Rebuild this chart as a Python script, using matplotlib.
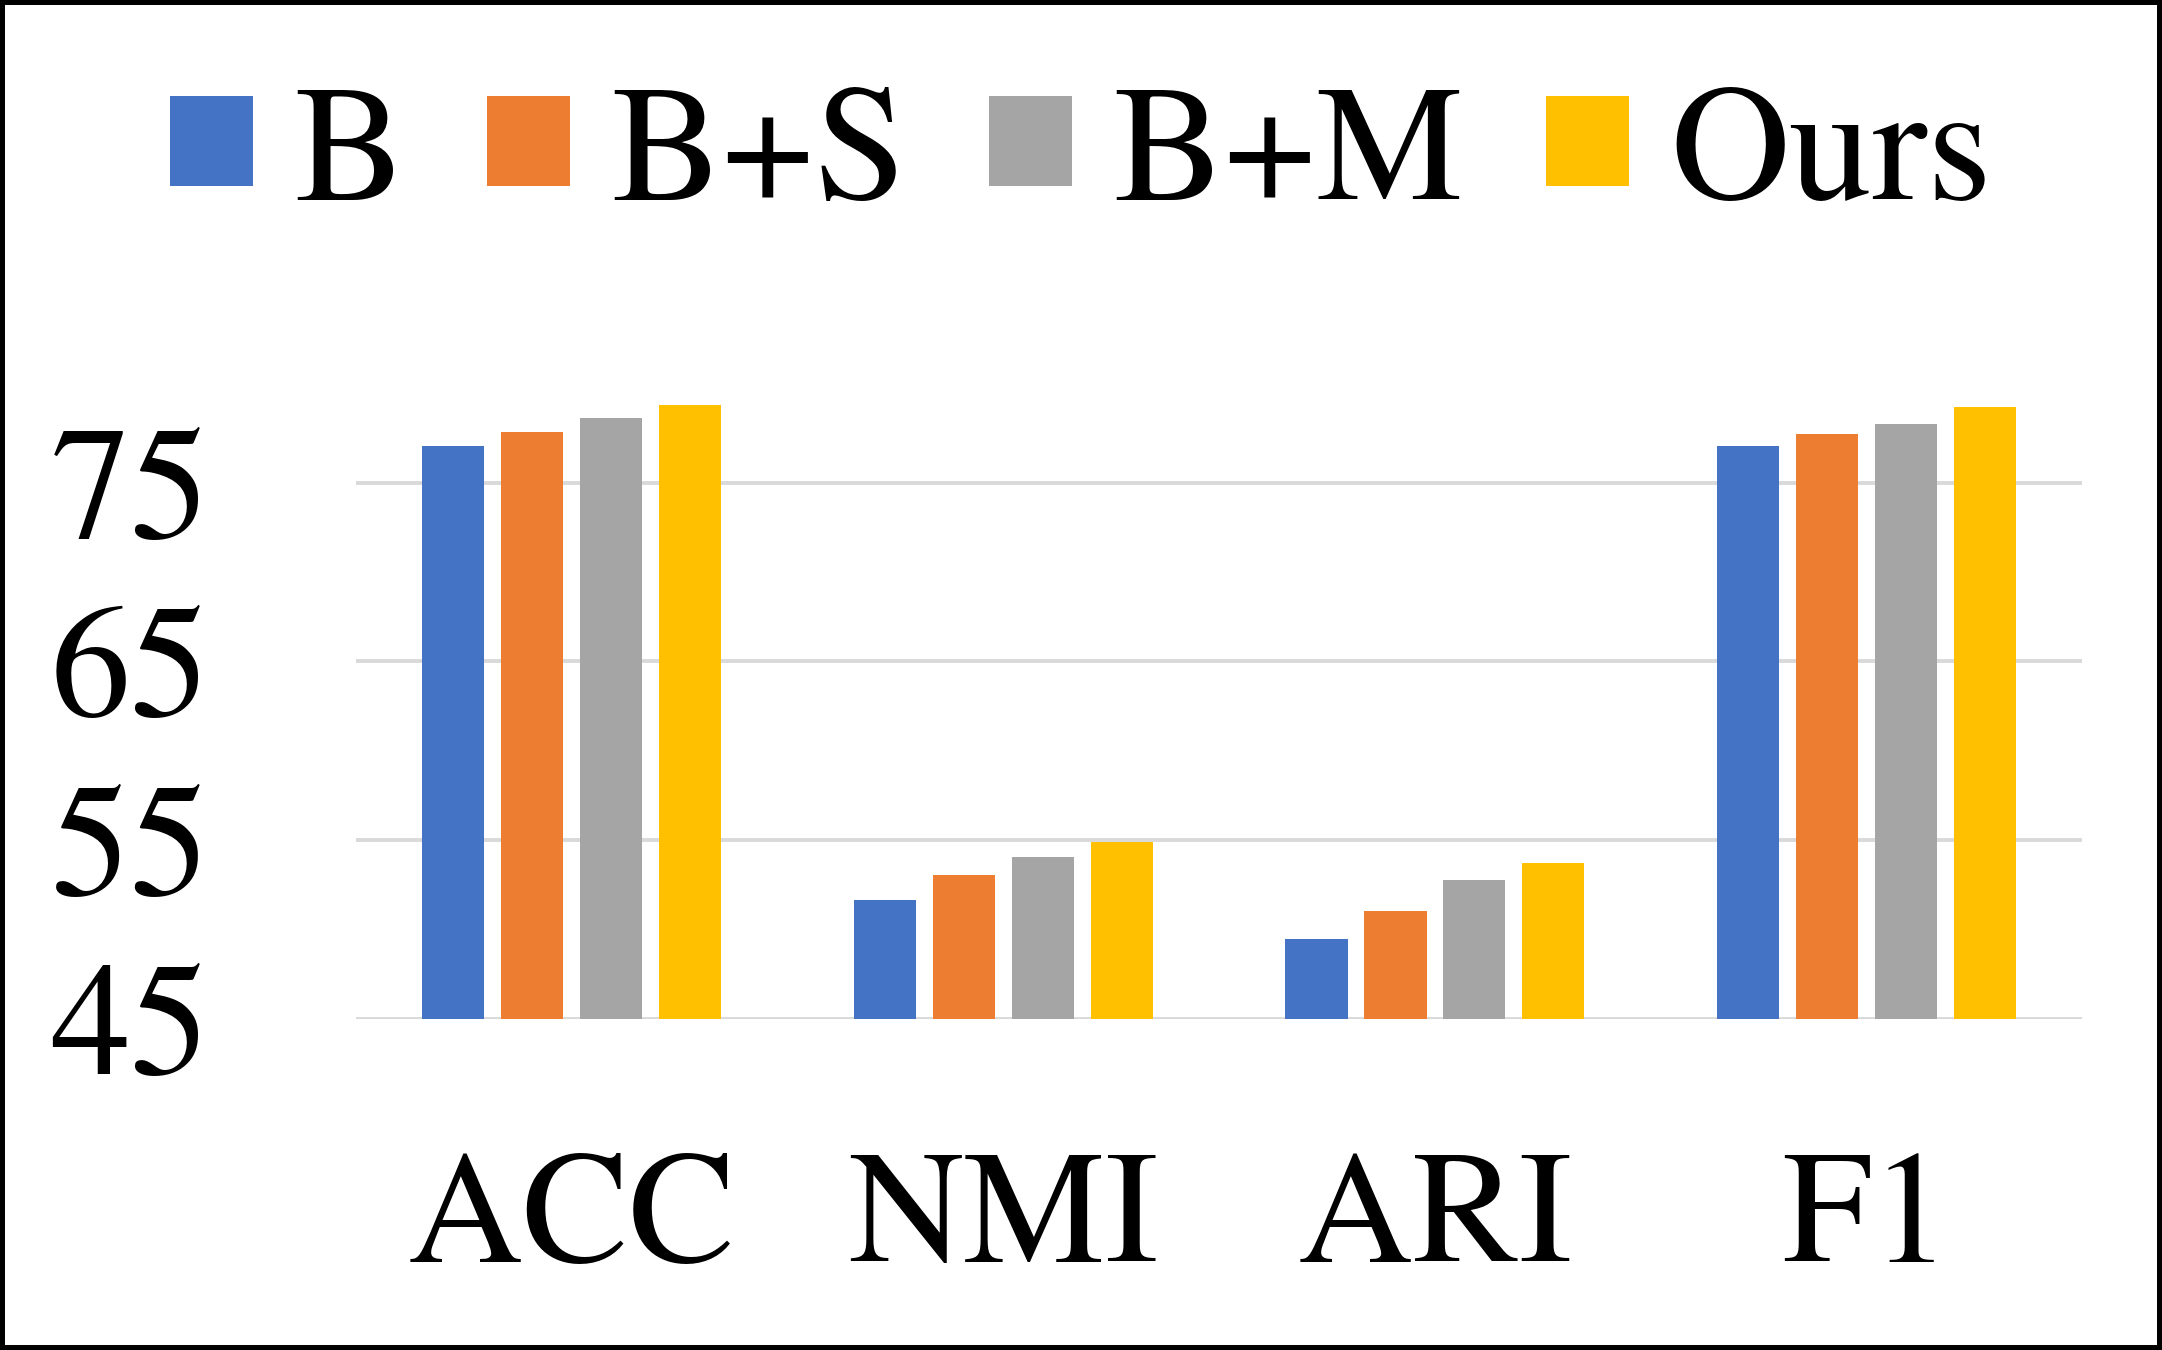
import matplotlib.pyplot as plt
from matplotlib.patches import Patch
import numpy as np

plt.rcParams['font.family'] = ['TeX Gyre Termes', 'Liberation Serif', 'DejaVu Serif']

metrics = ["ACC", "NMI", "ARI", "F1"]
methods = ["B", "B+S", "B+M", "Ours"]
b_vals = [77.08, 51.65, 49.47, 77.03]
bs_vals = [77.83, 53.04, 51.02, 77.73]
bm_vals = [78.60, 54.05, 52.75, 78.28]
ours_vals = [79.35, 54.90, 53.70, 79.23]
yticks = [45, 55, 65, 75]

colors = ["#4472C4", "#ED7D31", "#A5A5A5", "#FFC000"]
series = [b_vals, bs_vals, bm_vals, ours_vals]

fig = plt.figure(figsize=(21.62, 13.5), dpi=100)
fig.patch.set_edgecolor("black")
fig.patch.set_linewidth(7)

ax = fig.add_axes([0.1647, 0.2453, 0.7984, 0.4898])

x = np.arange(len(metrics))
width = 0.144
step = 0.183
for i, (vals, c) in enumerate(zip(series, colors)):
    ax.bar(x + (i - 1.5) * step, np.array(vals) - 45, bottom=45,
           width=width, color=c, zorder=3)

ax.set_xlim(-0.5, 3.5)
ax.set_ylim(45, 82)
ax.set_yticks(yticks)
ax.set_xticks(x)
ax.set_xticklabels(metrics)
ax.tick_params(axis="both", length=0, labelsize=115)
ax.tick_params(axis="x", pad=96)
ax.tick_params(axis="y", pad=105)
ax.grid(axis="y", color="#D9D9D9", linewidth=2.8, zorder=0)
ax.set_axisbelow(True)
for s in ax.spines.values():
    s.set_visible(False)

# legend across the top, square colour keys
handles = [Patch(facecolor=c) for c in colors]
fig.legend(handles, methods, loc="upper center", ncol=4,
           bbox_to_anchor=(0.5, 0.985), frameon=False, fontsize=119,
           handlelength=0.5, handleheight=0.46, handletextpad=0.25,
           columnspacing=0.5, borderaxespad=0)

fig.savefig("out.png", dpi=100)
